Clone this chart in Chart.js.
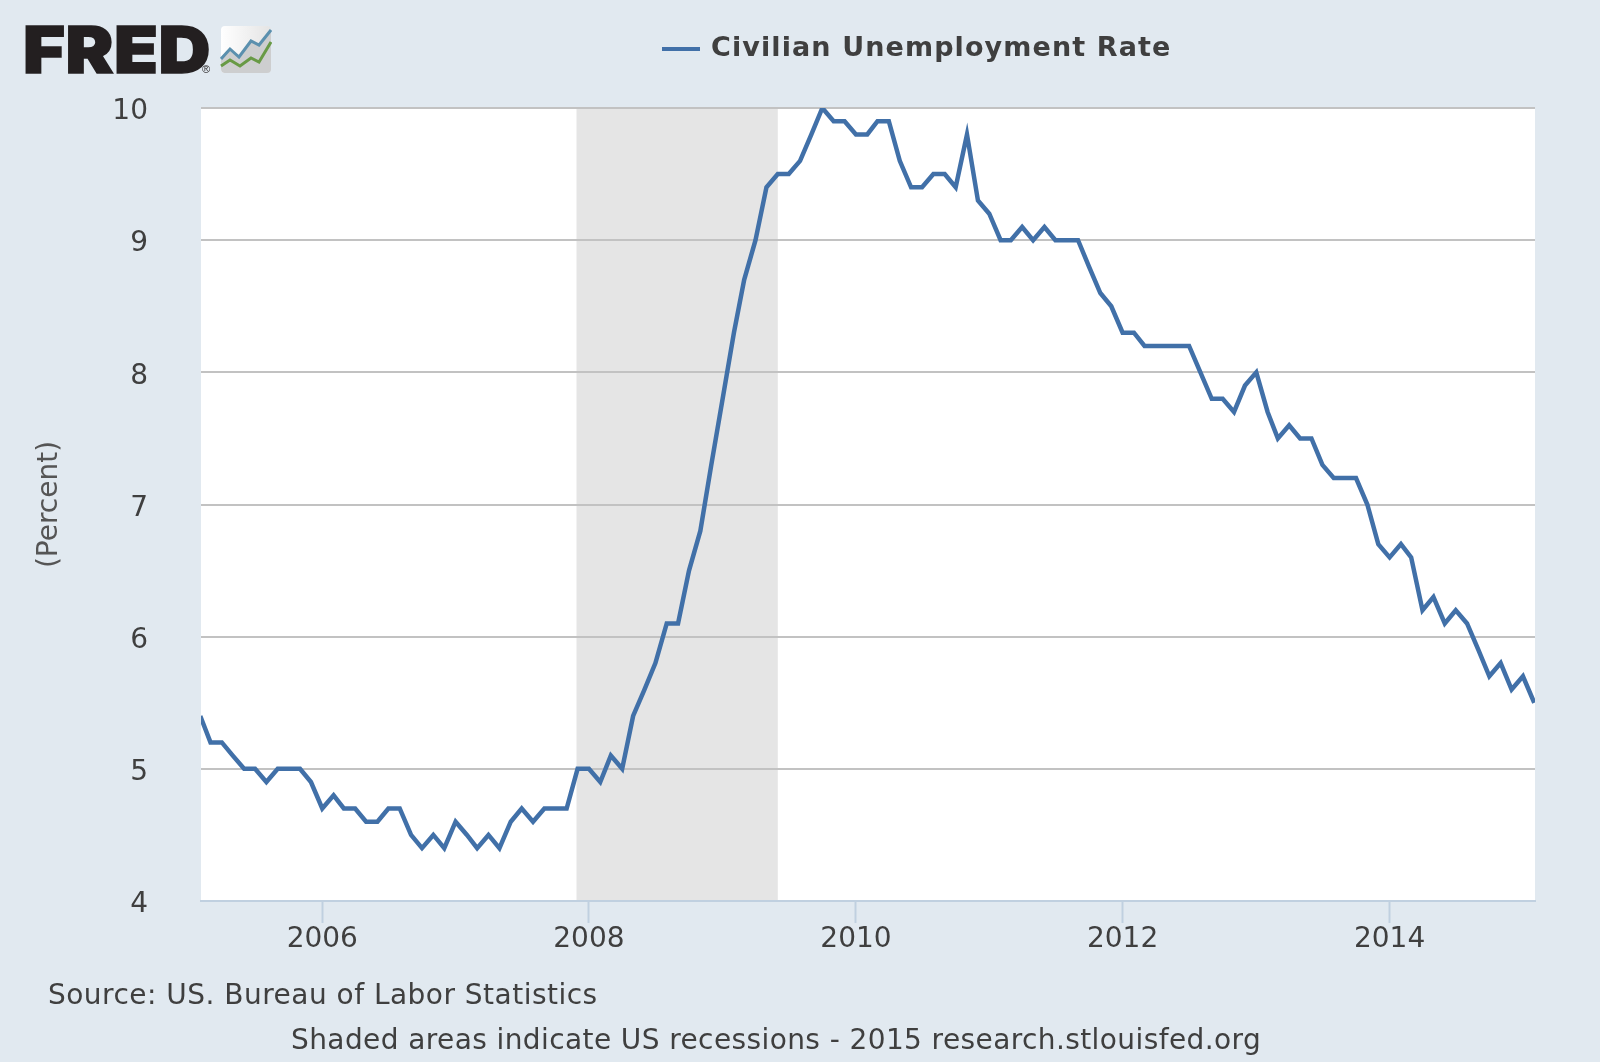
<!DOCTYPE html>
<html lang="en">

<head>
    <meta charset="UTF-8">
    <title>Civilian Unemployment Rate</title>
    <script src="https://cdn.jsdelivr.net/npm/chart.js"></script>
    <style>
        body { margin: 0; background: #e1e9f0; width: 1600px; height: 1062px; overflow: hidden; position: relative; font-family: "DejaVu Sans", sans-serif; }
        canvas { position: absolute; left: 0; top: 0; }
        .txt { position: absolute; white-space: nowrap; color: #3f3f3f; }
        .logo { left: 23px; top: 12px; font: 900 65px/76px Inter, "Liberation Sans", sans-serif; color: #231f20; -webkit-text-stroke: 1.5px #231f20; letter-spacing: 0.5px; transform: scaleX(1.105); transform-origin: left top; }
        .reg { left: 202px; top: 63px; font: 11px/12px "Liberation Sans", sans-serif; color: #231f20; }
        .legend-text { left: 711px; top: 31px; font-size: 27px; line-height: 32px; font-weight: bold; letter-spacing: 1.1px; }
        .legend-line { position: absolute; left: 662px; top: 47px; width: 38px; height: 4px; background: #4170a8; }
        .source { left: 48px; top: 978px; font-size: 28px; line-height: 34px; letter-spacing: 0.48px; }
        .shaded { left: 291px; top: 1023px; font-size: 28px; line-height: 34px; letter-spacing: 0.4px; }
        svg { position: absolute; left: 220px; top: 26px; }
    </style>
</head>

<body>
    <canvas id="grafico" width="1600" height="1062"></canvas>

    <div class="txt logo">FRED</div>
    <div class="txt reg">®</div>
    <svg width="52" height="48" viewBox="0 0 52 48">
        <defs>
            <linearGradient id="fundo" x1="0" y1="0" x2="1" y2="0">
                <stop offset="0" stop-color="#ffffff" />
                <stop offset="1" stop-color="#e4e4e4" />
            </linearGradient>
        </defs>
        <rect x="1" y="0" width="50" height="47" rx="4" fill="url(#fundo)" />
        <path d="M1 33 L10 23 L19 31 L31 15 L39 19 L51 4 L51 43 Q51 47 47 47 L5 47 Q1 47 1 43 Z" fill="#cdcecf" />
        <polyline points="1,33 10,23 19,31 31,15 39,19 51,4" fill="none" stroke="#5b90ae" stroke-width="3" />
        <polyline points="1,40 10,34 20,40 31,32 39,36 51,16" fill="none" stroke="#689a45" stroke-width="3" />
    </svg>

    <div class="legend-line"></div>
    <div class="txt legend-text">Civilian Unemployment Rate</div>
    <div class="txt source">Source: US. Bureau of Labor Statistics</div>
    <div class="txt shaded">Shaded areas indicate US recessions - 2015 research.stlouisfed.org</div>

    <script>
        // monthly values, feb/2005 to feb/2015
        var primeiroAno = 2005;
        var primeiroMes = 1; // fevereiro
        var taxa = [
            5.4, 5.2, 5.2, 5.1, 5.0, 5.0, 4.9, 5.0, 5.0, 5.0, 4.9,
            4.7, 4.8, 4.7, 4.7, 4.6, 4.6, 4.7, 4.7, 4.5, 4.4, 4.5, 4.4,
            4.6, 4.5, 4.4, 4.5, 4.4, 4.6, 4.7, 4.6, 4.7, 4.7, 4.7, 5.0,
            5.0, 4.9, 5.1, 5.0, 5.4, 5.6, 5.8, 6.1, 6.1, 6.5, 6.8, 7.3,
            7.8, 8.3, 8.7, 9.0, 9.4, 9.5, 9.5, 9.6, 9.8, 10.0, 9.9, 9.9,
            9.8, 9.8, 9.9, 9.9, 9.6, 9.4, 9.4, 9.5, 9.5, 9.4, 9.8, 9.3,
            9.2, 9.0, 9.0, 9.1, 9.0, 9.1, 9.0, 9.0, 9.0, 8.8, 8.6, 8.5,
            8.3, 8.3, 8.2, 8.2, 8.2, 8.2, 8.2, 8.0, 7.8, 7.8, 7.7, 7.9,
            8.0, 7.7, 7.5, 7.6, 7.5, 7.5, 7.3, 7.2, 7.2, 7.2, 7.0, 6.7,
            6.6, 6.7, 6.6, 6.2, 6.3, 6.1, 6.2, 6.1, 5.9, 5.7, 5.8, 5.6,
            5.7, 5.5
        ];
        var anosEixo = [2006, 2008, 2010, 2012, 2014];
        var valoresEixoY = [4, 5, 6, 7, 8, 9, 10];
        var recessao = ['2007-11-28', '2009-06-01'];
        var inicioEixo = '2005-02-03';
        var fimEixo = '2015-02-03';

        function dia(texto) {
            return Date.parse(texto + 'T00:00:00Z');
        }

        var pontos = [];
        for (let i = 0; i < taxa.length; i++) {
            pontos.push({ x: Date.UTC(primeiroAno, primeiroMes + i, 1), y: taxa[i] });
        }

        // white plot + recession band, under the grid lines
        var fundoGrafico = {
            id: 'fundoGrafico',
            beforeDraw: function (chart) {
                var ctx = chart.ctx;
                var area = chart.chartArea;
                var x = chart.scales.x;
                ctx.save();
                ctx.fillStyle = '#ffffff';
                ctx.fillRect(area.left, area.top, area.right - area.left, area.bottom - area.top);
                var x1 = x.getPixelForValue(dia(recessao[0]));
                var x2 = x.getPixelForValue(dia(recessao[1]));
                ctx.fillStyle = '#e5e5e5';
                ctx.fillRect(x1, area.top, x2 - x1, area.bottom - area.top);
                ctx.restore();
            }
        };

        new Chart(document.getElementById('grafico'), {
            type: 'line',
            plugins: [fundoGrafico],
            data: {
                datasets: [{
                    label: 'Civilian Unemployment Rate',
                    data: pontos,
                    borderColor: '#4170a8',
                    borderWidth: 4.5,
                    pointRadius: 0,
                    tension: 0,
                    fill: false,
                    clip: 0
                }]
            },
            options: {
                responsive: false,
                animation: false,
                layout: { padding: { left: 0, top: 108, right: 65, bottom: 0 } },
                plugins: {
                    legend: { display: false },
                    tooltip: { enabled: false }
                },
                scales: {
                    x: {
                        type: 'linear',
                        min: dia(inicioEixo),
                        max: dia(fimEixo),
                        afterFit: function (s) { s.height = 161; },
                        afterBuildTicks: function (s) {
                            s.ticks = anosEixo.map(function (a) { return { value: Date.UTC(a, 0, 1) }; });
                        },
                        border: { color: '#c0d0e0', width: 2 },
                        grid: { drawOnChartArea: false, drawTicks: true, tickLength: 22, tickWidth: 2, tickColor: '#c0d0e0' },
                        ticks: {
                            autoSkip: false,
                            maxRotation: 0,
                            padding: 0,
                            color: '#3f3f3f',
                            font: { family: 'DejaVu Sans', size: 28 },
                            callback: function (v) { return String(new Date(v).getUTCFullYear()); }
                        }
                    },
                    y: {
                        min: 4,
                        max: 10,
                        afterFit: function (s) { s.width = 201; },
                        afterBuildTicks: function (s) {
                            s.ticks = valoresEixoY.map(function (v) { return { value: v }; });
                        },
                        border: { display: false },
                        grid: { color: '#c2c2c2', lineWidth: 2, drawTicks: false },
                        ticks: {
                            padding: 53,
                            color: '#3f3f3f',
                            // blank first line + small line height pushes the number a few px down
                            font: { family: 'DejaVu Sans', size: 28, lineHeight: '8px' },
                            callback: function (v) { return ['', String(v)]; }
                        },
                        title: {
                            display: true,
                            text: '(Percent)',
                            color: '#555555',
                            font: { family: 'DejaVu Sans', size: 28 },
                            padding: { top: 33, bottom: 0 }
                        }
                    }
                }
            }
        });
    </script>
</body>

</html>
